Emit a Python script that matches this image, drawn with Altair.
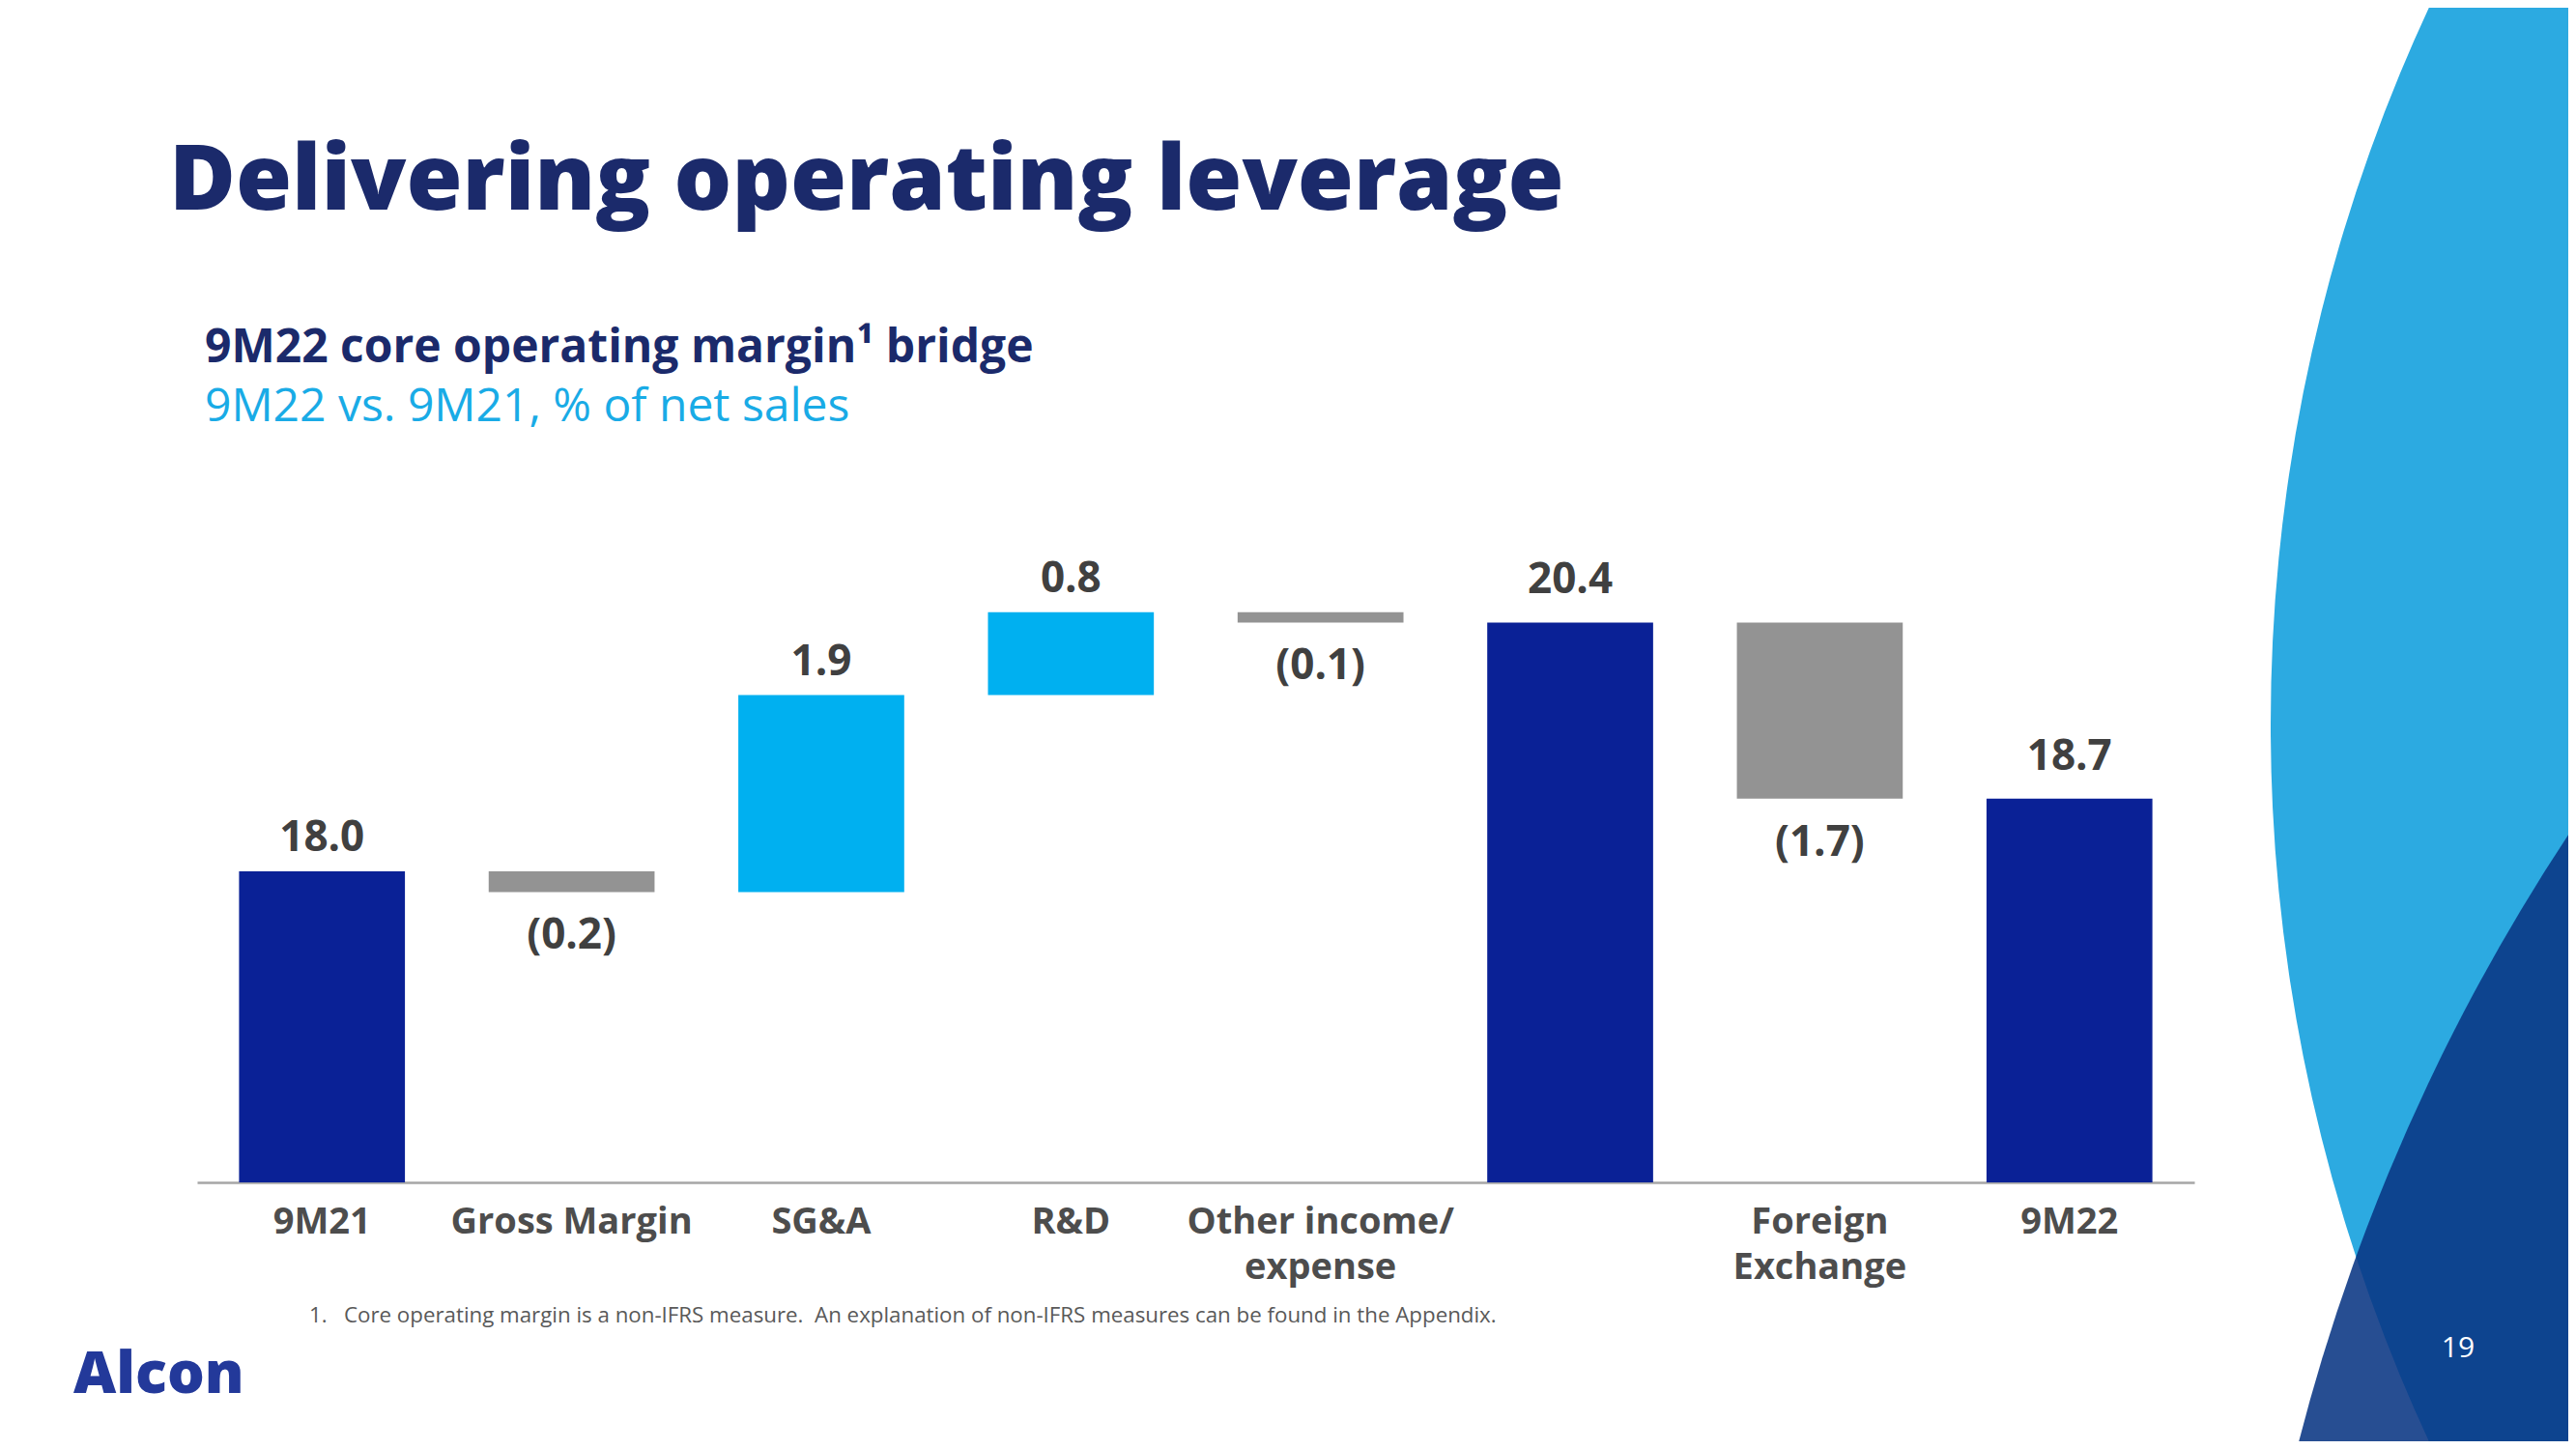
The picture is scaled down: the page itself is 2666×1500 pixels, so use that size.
import altair as alt
import pandas as pd

# ---- data ----
categories = ["9M21", "Gross Margin", "SG&A", "R&D", "Other income/\nexpense", " ", "Foreign\nExchange", "9M22"]
values = [18.0, -0.2, 1.9, 0.8, -0.1, 20.4, -1.7, 18.7]
is_total = [True, False, False, False, False, True, False, True]

rows = []
running = 0.0
for i, (cat, v, tot) in enumerate(zip(categories, values, is_total)):
    if tot:
        start, end = 0.0, v
        running = v
        kind = "total"
    else:
        start, end = running, running + v
        running = end
        kind = "increase" if v > 0 else "decrease"
    label = f"{v:.1f}" if v >= 0 else f"({abs(v):.1f})"
    rows.append({"category": cat, "idx": i, "start": start, "end": end,
                 "top": max(start, end), "bottom": min(start, end),
                 "kind": kind, "label": label, "neg": v < 0})
df = pd.DataFrame(rows)

FONT = "Open Sans"
NAVY_BAR = "#0A2196"
CYAN_BAR = "#00B0F0"
GRAY_BAR = "#939393"
TEXT_GRAY = "#404040"
TITLE_NAVY = "#1B2A6B"

W, H = 2067, 644
PL, PT = 196, 572
PR = 2650 - PL - W
PB = 1484 - PT - H

x_enc = alt.X("category:N", sort=categories,
              scale=alt.Scale(paddingInner=0.3355, paddingOuter=0.168),
              axis=alt.Axis(title=None, labelExpr="split(datum.label, '\\n')",
                            labelAngle=0, labelFont=FONT, labelFontSize=38,
                            labelFontWeight="bold", labelColor="#4D4D4D",
                            labelLineHeight=47, labelPadding=22, ticks=False,
                            labelLimit=0, labelOverlap=False,
                            domainColor="#A6A6A6", domainWidth=2.5,
                            labelBaseline="top"))
y_scale = alt.Scale(domain=[15, 21], clamp=True, nice=False, zero=False)

bars = alt.Chart(df).mark_bar().encode(
    x=x_enc,
    y=alt.Y("start:Q", scale=y_scale, axis=None),
    y2="end:Q",
    color=alt.Color("kind:N", legend=None,
                    scale=alt.Scale(domain=["total", "increase", "decrease"],
                                    range=[NAVY_BAR, CYAN_BAR, GRAY_BAR])),
)

def value_labels(filt, field, baseline, dy):
    return alt.Chart(df).transform_filter(filt).mark_text(
        font=FONT, fontSize=44, fontWeight="bold", color=TEXT_GRAY,
        baseline=baseline, dy=dy).encode(
        x=alt.X("category:N", sort=categories),
        y=alt.Y(f"{field}:Q", scale=y_scale, axis=None),
        text="label:N")

labels_up = value_labels("!datum.neg && datum.idx < 5", "top", "alphabetic", -21)
labels_up_late = value_labels("!datum.neg && datum.idx >= 5", "top", "alphabetic", -30)
labels_down = value_labels("datum.neg", "bottom", "top", 24)

one = alt.Data(values=[{"a": 1}])

def px(pagex):
    return pagex - (8 + PL)

def py(pagey):
    return pagey - (8 + PT)

R1 = 1760
R2 = 2073
cyan_shape = alt.Chart(one).mark_circle(color="#2CAAE1", opacity=1, size=(2 * R1) ** 2).encode(
    x=alt.value(px(4110)), y=alt.value(py(750)))
navy_shape = alt.Chart(one).mark_circle(color="#093683", opacity=0.88, size=(2 * R2) ** 2).encode(
    x=alt.value(px(4387)), y=alt.value(py(2008)))

def txt(text, x, y, size, weight, color, align="left", baseline="alphabetic"):
    return alt.Chart(one).mark_text(text=text, font=FONT, fontSize=size, fontWeight=weight,
                                    color=color, align=align, baseline=baseline).encode(
        x=alt.value(px(x)), y=alt.value(py(y)))

NB = "\u00a0"
title = txt("Delivering operating leverage", 175, 217, 94, 800, TITLE_NAVY)
sub1 = txt("9M22 core operating margin\u00b9 bridge", 212, 375, 48, "bold", TITLE_NAVY)
sub2 = txt("9M22 vs. 9M21, % of net sales", 212, 436, 48, "normal", "#19ABE6")
foot = txt("1." + NB * 3 + "Core operating margin is a non-IFRS measure." + NB * 2 +
           "An explanation of non-IFRS measures can be found in the Appendix.",
           320, 1369, 22.3, "normal", "#595959")
logo = txt("Alcon", 76, 1442, 61, 800, "#23399A")
page = txt("19", 2544, 1405, 30, "normal", "#FFFFFF", align="center")

chart = alt.layer(cyan_shape, navy_shape, bars, labels_up, labels_up_late, labels_down,
                  title, sub1, sub2, foot, logo, page).properties(
    width=W, height=H,
    autosize=alt.AutoSizeParams(type="none"),
    padding={"left": PL, "top": PT, "right": PR, "bottom": PB},
    background="white",
).configure_view(stroke=None)

chart.save("out.html", embed_options={"renderer": "svg", "actions": False})
